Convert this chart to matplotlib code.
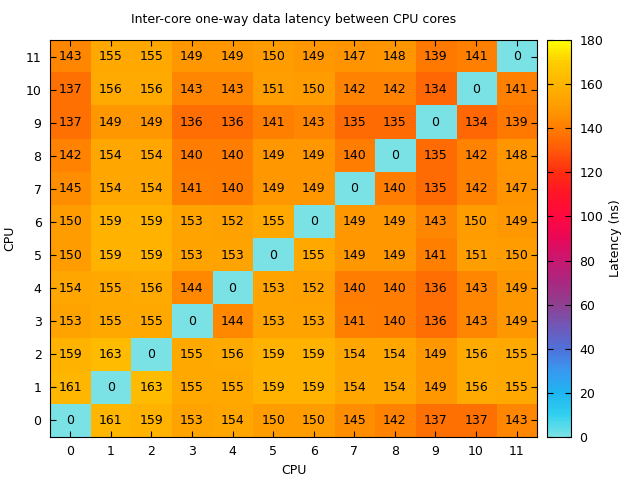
import numpy as np
import matplotlib
matplotlib.use("Agg")
import matplotlib.pyplot as plt
from matplotlib.colors import LinearSegmentedColormap

# latency matrix, row = CPU on y axis (0 at bottom), column = CPU on x axis
cpus = list(range(12))
row_0  = [0, 161, 159, 153, 154, 150, 150, 145, 142, 137, 137, 143]
row_1  = [161, 0, 163, 155, 155, 159, 159, 154, 154, 149, 156, 155]
row_2  = [159, 163, 0, 155, 156, 159, 159, 154, 154, 149, 156, 155]
row_3  = [153, 155, 155, 0, 144, 153, 153, 141, 140, 136, 143, 149]
row_4  = [154, 155, 156, 144, 0, 153, 152, 140, 140, 136, 143, 149]
row_5  = [150, 159, 159, 153, 153, 0, 155, 149, 149, 141, 151, 150]
row_6  = [150, 159, 159, 153, 152, 155, 0, 149, 149, 143, 150, 149]
row_7  = [145, 154, 154, 141, 140, 149, 149, 0, 140, 135, 142, 147]
row_8  = [142, 154, 154, 140, 140, 149, 149, 140, 0, 135, 142, 148]
row_9  = [137, 149, 149, 136, 136, 141, 143, 135, 135, 0, 134, 139]
row_10 = [137, 156, 156, 143, 143, 151, 150, 142, 142, 134, 0, 141]
row_11 = [143, 155, 155, 149, 149, 150, 149, 147, 148, 139, 141, 0]
cbar_ticks = [0, 20, 40, 60, 80, 100, 120, 140, 160, 180]

lat = np.array([row_0, row_1, row_2, row_3, row_4, row_5,
                row_6, row_7, row_8, row_9, row_10, row_11])

# gnuplot-ish palette, one stop every 10 ns
pal_hex = ["#7ae2e4", "#30d0f0", "#20b4f0", "#3898f0", "#5070d8",
           "#7058b8", "#904090", "#a82880", "#c81870", "#e80858",
           "#ff0840", "#ff1428", "#ff2c10", "#ff5808", "#ff7c00",
           "#ff9c00", "#ffb400", "#ffcc00", "#ffff00"]
pal = LinearSegmentedColormap.from_list("lat", pal_hex)

FS = 9
plt.rcParams["font.family"] = ["DejaVu Sans"]
fig = plt.figure(figsize=(6.4, 4.8), dpi=100)
ax = fig.add_axes([0.078, 0.0896, 0.761, 0.8271])
cax = fig.add_axes([0.855, 0.0896, 0.0375, 0.8271])

im = ax.imshow(lat, cmap=pal, vmin=0, vmax=180, origin="lower",
               aspect="auto", interpolation="nearest",
               extent=(-0.5, 11.5, -0.5, 11.5))
for i in cpus:
    for j in cpus:
        ax.text(j, i, str(lat[i, j]), ha="center", va="center",
                fontsize=FS, color="black")

ax.set_xticks(cpus); ax.set_yticks(cpus)
ax.tick_params(direction="in", top=True, right=True, labelsize=FS,
               length=4, pad=6)
ax.set_xlabel("CPU", fontsize=FS, labelpad=4)
ax.set_ylabel("CPU", fontsize=FS, labelpad=7)
ax.set_title("Inter-core one-way data latency between CPU cores",
             fontsize=FS, pad=12)

cb = fig.colorbar(im, cax=cax, ticks=cbar_ticks)
cb.ax.tick_params(direction="in", left=True, right=True, labelsize=FS,
                  length=4, pad=6)
cb.set_label("Latency (ns)", fontsize=FS, labelpad=4)

fig.savefig("out.png", dpi=100)
